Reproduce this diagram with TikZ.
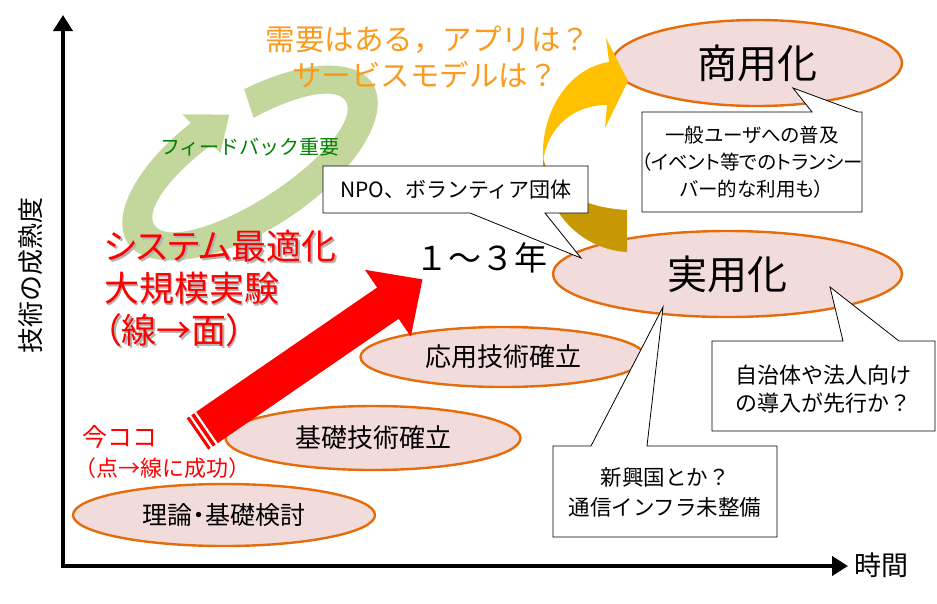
\documentclass[tikz,border=0pt]{standalone}
\usepackage{fontspec}
\setmainfont{Noto Sans CJK JP}
\newfontfamily\pfont{Noto Sans CJK JP}[RawFeature=+palt]
\usetikzlibrary{shapes.geometric,arrows.meta}
\definecolor{ellfill}{RGB}{242,220,219}
\definecolor{ellline}{RGB}{228,108,10}
\definecolor{ringgreen}{RGB}{195,214,155}
\definecolor{arrowyellow}{RGB}{255,192,0}
\definecolor{arrowdark}{RGB}{200,152,4}
\definecolor{txtorange}{RGB}{250,155,30}
\definecolor{txtgreen}{RGB}{0,128,0}
\definecolor{txtred}{RGB}{255,0,0}
\newcommand{\fsz}[2]{\fontsize{#1}{#2}\selectfont}
\begin{document}
\begin{tikzpicture}[x=1pt,y=-1pt,
  stage/.style={ellipse, draw=ellline, fill=ellfill, line width=2.4pt, inner sep=0pt},
  note/.style={draw=black, fill=white, line width=0.8pt, line join=miter},
  notetext/.style={align=center, inner sep=0pt},
  axisline/.style={line width=4pt, line join=miter, {Triangle[length=16pt,width=19pt]}-{Triangle[length=16pt,width=19pt]}},
  redtext/.style={text=txtred, inner sep=0pt},
  shadowtext/.style={text=black!30, inner sep=0pt},
]
\useasboundingbox (0,0) rectangle (937,603);
\fill[white] (0,0) rectangle (937,603);

% axes
\coordinate (ytop) at (63,15);
\coordinate (origin) at (63,566);
\coordinate (xend) at (848,566);
\draw[axisline] (ytop) -- (origin) -- (xend);
\node[font=\fsz{26}{28}, rotate=90, inner sep=0pt] (ylabel) at (31,275) {技術の成熟度};
\node[font=\fsz{27}{29}, inner sep=0pt] (xlabel) at (881,565) {時間};

% green feedback ring
\begin{scope}[shift={(250,163)}, rotate=33]
  \fill[ringgreen] (-76:146 and 67) arc[start angle=-76, end angle=259, x radius=146, y radius=67]
    -- (259:158 and 79) -- (274:130 and 52) -- (259:102 and 25) -- (259:114 and 37)
    arc[start angle=259, end angle=-76, x radius=114, y radius=37] -- cycle;
\end{scope}

% stages
\node[stage, minimum width=290pt, minimum height=86pt, font=\fsz{40}{41}] (commercial) at (757,63) {商用化};
\node[stage, minimum width=349pt, minimum height=86pt, font=\fsz{40}{41}] (practical) at (727.5,274) {実用化};
\node[stage, minimum width=285pt, minimum height=60pt, font=\fsz{26}{28}] (applied) at (503,357) {応用技術確立};
\node[stage, minimum width=295pt, minimum height=64pt, font=\fsz{26}{28}] (basic) at (373,438) {基礎技術確立};
\node[stage, minimum width=302pt, minimum height=62pt, font=\pfont\fsz{25}{27}] (theory) at (224,515) {理論・基礎検討};

% curved yellow arrow (on top of the stages)
\fill[arrowdark] (543,158) .. controls (543,215) and (585,250) .. (627,252) -- (627,210)
   .. controls (590,208) and (553,195) .. (543,158) -- cycle;
\fill[arrowyellow] (543,162) .. controls (540,110) and (570,68) .. (609,62) -- (606,38) -- (628,81)
   -- (605,128) -- (607,105) .. controls (575,105) and (548,125) .. (543,162) -- cycle;

% red striped arrow
\begin{scope}[shift={(197.5,434)}, rotate=34.5]
  \fill[txtred] (11.5,-19) -- (231,-19) -- (231,-40.5) -- (273,0) -- (231,40.5) -- (231,19) -- (11.5,19) -- cycle;
  \fill[txtred] (0,-19) rectangle (3,19);
  \fill[txtred] (5.5,-19) rectangle (9,19);
\end{scope}

% callouts
\coordinate (npotip) at (581,258);
\draw[note] (323,166) -- (588,166) -- (588,213) -- (545,213) -- (npotip) -- (470,213) -- (323,213) -- cycle;
\node[notetext, font=\fsz{21}{25}] (npo) at (456,189.5) {NPO、ボランティア団体};

\coordinate (usertip) at (793,88);
\draw[note] (642,112) -- (812,112) -- (usertip) -- (858,112) -- (862,112) -- (862,212) -- (642,212) -- cycle;
\node[notetext, font=\pfont\fsz{19.5}{27}] (user) at (752,162) {一般ユーザへの普及\\（イベント等でのトランシー\\バー的な利用も）};

\coordinate (govtip) at (830,287);
\draw[note] (712,341) -- (843,341) -- (govtip) -- (899,341) -- (935,341) -- (935,431) -- (712,431) -- cycle;
\node[notetext, font=\fsz{22}{28}] (gov) at (823.5,389) {自治体や法人向け\\の導入が先行か？};

\coordinate (emtip) at (663,307);
\draw[note] (553,446) -- (591,446) -- (emtip) -- (647,446) -- (777,446) -- (777,537) -- (553,537) -- cycle;
\node[notetext, font=\fsz{21.5}{30}] (emerging) at (665,492) {新興国とか？\\通信インフラ未整備};

% texts
\node[text=txtorange, inner sep=0pt, font=\fsz{29.5}{31}] (demand1) at (428,40) {需要はある，アプリは？};
\node[text=txtorange, inner sep=0pt, font=\fsz{29.5}{31}] (demand2) at (425,75) {サービスモデルは？};
\node[text=txtgreen, inner sep=0pt, font=\fsz{20}{22}] (feedback) at (250,147) {フィードバック重要};

\node[shadowtext, align=left, anchor=west, font=\pfont\fsz{35}{42}] at (105.5,290) {システム最適化\\大規模実験\\（線→面）};
\node[redtext, align=left, anchor=west, font=\pfont\fsz{35}{42}] (system) at (104,288) {システム最適化\\大規模実験\\（線→面）};

\node[inner sep=0pt, font=\fsz{33}{35}] (years) at (481,258) {１～３年};
\node[redtext, font=\fsz{25}{27}] (now) at (120,437) {今ココ};
\node[redtext, font=\fsz{22}{24}] (nownote) at (162,468) {（点→線に成功）};
\end{tikzpicture}
\end{document}
